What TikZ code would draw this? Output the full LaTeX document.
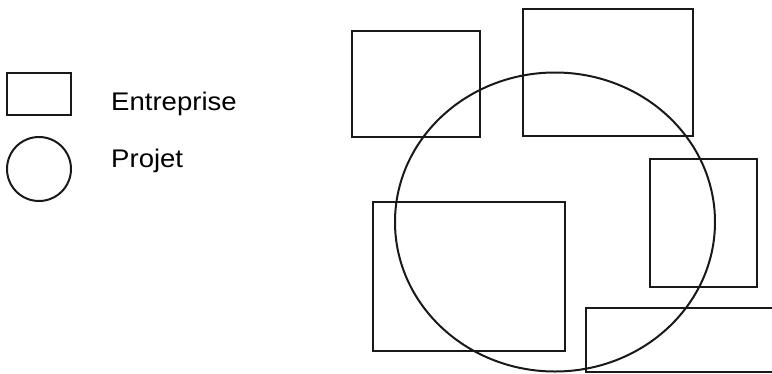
\documentclass[tikz,border=0pt]{standalone}
\usepackage{fontspec}
\setmainfont{Liberation Sans}
\tikzset{
  shape line/.style={draw=black!90, line width=2pt},
  legend text/.style={anchor=base west, inner sep=0pt, font=\fontsize{25.5}{30}\selectfont, xscale=1.08, transform shape}
}
\begin{document}
\begin{tikzpicture}[x=1pt,y=-1pt]
\useasboundingbox (0,0) rectangle (772,373);
% legend
\draw[shape line] (7,73) rectangle (71,115);
\draw[shape line] (39,169) circle [radius=32];
\node[legend text] (entreprise) at (111,110) {Entreprise};
\node[legend text] (projet) at (111,167) {Projet};
% enterprises
\draw[shape line] (352,31) rectangle (480,137);
\draw[shape line] (523,9) rectangle (693,136);
\draw[shape line] (650,159) rectangle (757,287);
\draw[shape line] (373,202) rectangle (565,351);
\draw[shape line] (773,308) -- (586,308) -- (586,371.5) -- (773,371.5);
% project
\draw[shape line] (555,222) ellipse [x radius=160, y radius=149.5];
\end{tikzpicture}
\end{document}
